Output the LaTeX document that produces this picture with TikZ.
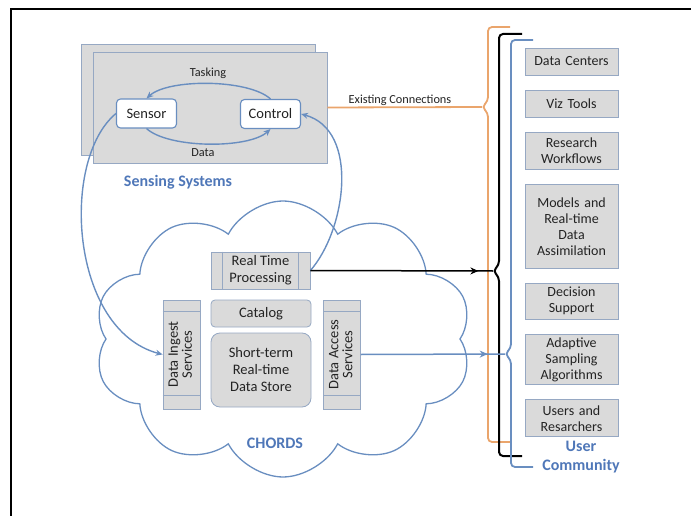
\documentclass[tikz,border=0pt]{standalone}
\usepackage{fontspec}
\setmainfont{Carlito}
\usepackage{graphicx}
\usetikzlibrary{positioning,shapes.symbols,arrows.meta,decorations.markings}
\definecolor{linkblue}{RGB}{105,142,192}
\definecolor{labelblue}{RGB}{79,119,184}
\definecolor{linkorange}{RGB}{234,165,108}
\definecolor{boxgray}{RGB}{218,218,218}
\definecolor{boxedge}{RGB}{150,168,195}
\definecolor{textdark}{RGB}{35,35,35}

\begin{document}
\begin{tikzpicture}[x=1pt, y=-1pt, node distance=14.5pt,
  sys/.style = {draw=boxedge, fill=boxgray, line width=0.8pt, minimum width=234pt, minimum height=111pt},
  dev/.style = {draw=linkblue, fill=white, rounded corners=4pt, line width=1.1pt, inner sep=2pt, minimum width=60pt, minimum height=29pt, text=textdark, font=\fontsize{14.5}{16}\selectfont},
  part/.style = {draw=boxedge, fill=boxgray, line width=0.8pt, inner sep=2pt, text=textdark, align=center, font=\fontsize{14.5}{17}\selectfont},
  ucbox/.style = {part, minimum width=93pt, text width=89pt, minimum height=27pt, font=\fontsize{14}{16}\selectfont},
  small/.style = {text=textdark, font=\fontsize{12.3}{14}\selectfont},
  title/.style = {text=labelblue, align=center, font=\bfseries\fontsize{16}{19}\selectfont},
  flow/.style = {draw=linkblue, line width=1.4pt, -{Stealth[length=7pt,width=6pt]}},
  brace/.style = {line width=1.8pt, rounded corners=4pt},
  midtip/.style = {postaction={decorate}, decoration={markings, mark=at position #1 with {\arrow{Stealth[length=8pt,width=7pt]}}}}]
\useasboundingbox (0,0) rectangle (691,516);
\draw[line width=1.5pt] (11,516) -- (11,9) -- (691,9);

% sensing systems
\node[sys] (sysback) at (198.5,100) {};
\node[sys] (sysfront) at (210,107.5) {};
\node[dev] (sensor) at (146.5,113.5) {Sensor};
\node[dev] (ctrl) at (270.5,114) {Control};
\node[small] (tasking) at (208,73) {Tasking};
\node[small] (data) at (203,153) {Data};
\node[title] (syslabel) at (178,182) {Sensing Systems};
\draw[flow] (ctrl.north) .. controls +(-22,-20) and +(22,-20) .. (sensor.north);
\draw[flow] (sensor.south) .. controls +(22,20) and +(-22,20) .. (ctrl.south);

% chords cloud
\node[cloud, draw=linkblue, line width=1.3pt, cloud puffs=10, cloud puff arc=125, aspect=1.4, minimum width=378pt, minimum height=276pt] (chords) at (283,339) {};
\node[title] (chordslabel) at (275,443) {CHORDS};
\node[part, minimum width=99pt, minimum height=37pt] (rtp) at (260.5,270.5) {Real Time\\Processing};
\draw[draw=boxedge, line width=0.8pt] ([xshift=12pt]rtp.north west) -- ([xshift=12pt]rtp.south west);
\draw[draw=boxedge, line width=0.8pt] ([xshift=-12pt]rtp.north east) -- ([xshift=-12pt]rtp.south east);
\node[part, rounded corners=4pt, minimum width=100pt, minimum height=27pt] (catalog) at (261,313.5) {Catalog};
\node[part, rounded corners=9pt, minimum width=100pt, minimum height=74pt] (store) at (261,370) {Short-term\\Real-time\\Data Store};
\node[part, minimum width=37pt, minimum height=109pt] (ingest) at (181.5,354.5)
  {\rotatebox{90}{\begin{tabular}{@{}c@{}}Data Ingest\\[-3pt]Services\end{tabular}}};
\node[part, minimum width=37pt, minimum height=109pt] (access) at (342,354.5)
  {\rotatebox{90}{\begin{tabular}{@{}c@{}}Data Access\\[-3pt]Services\end{tabular}}};
\foreach \n in {ingest, access} {
  \draw[draw=boxedge, line width=0.8pt] ([yshift=-12pt]\n.north west) -- ([yshift=-12pt]\n.north east);
  \draw[draw=boxedge, line width=0.8pt] ([yshift=14pt]\n.south west) -- ([yshift=14pt]\n.south east);
}
\draw[flow] (sensor.west) .. controls (60,160) and (70,330) .. (ingest.west);
\draw[flow] (rtp.east) .. controls (346,230) and (360,130) .. (ctrl.east);

% user community
\node[ucbox] (centers) at (571.5,61.5) {Data Centers};
\node[ucbox, below=of centers] (viz) {Viz Tools};
\node[ucbox, below=of viz, minimum height=37pt] (workflows) {Research\\Workflows};
\node[ucbox, below=of workflows, minimum height=83pt] (models) {Models and\\Real-time\\Data\\Assimilation};
\node[ucbox, below=of models, minimum height=36pt] (decision) {Decision\\Support};
\node[ucbox, below=of decision, minimum height=50pt] (adaptive) {Adaptive\\Sampling\\Algorithms};
\node[ucbox, below=of adaptive, minimum height=37pt] (users) {Users and\\Resarchers};
\node[title] (uclabel) at (581,457) {User\\Community};

\coordinate (extip) at (482,107);
\coordinate (rttip) at (493,271);
\coordinate (datip) at (505,354);
\draw[brace, draw=linkorange] (510,27) -- (488,27) -- (488,101) -- (extip) -- (488,113) -- (488,442) -- (510,442);
\draw[brace, draw=black, line width=2pt] (522,34) -- (499,34) -- (499,265) -- (rttip) -- (499,277) -- (499,456) -- (522,456);
\draw[brace, draw=linkblue] (533,40) -- (511,40) -- (511,348) -- (datip) -- (511,360) -- (511,467) -- (533,467);

% connections
\draw[draw=linkorange, line width=1.8pt] (sysfront.east) -- (extip);
\node[small] (exlabel) at (400,100) {Existing Connections};
\draw[line width=1.5pt, midtip=0.92] (rtp.east) -- (rttip);
\draw[draw=linkblue, line width=1.5pt, midtip=0.88] (access.east) -- (datip);
\end{tikzpicture}
\end{document}
